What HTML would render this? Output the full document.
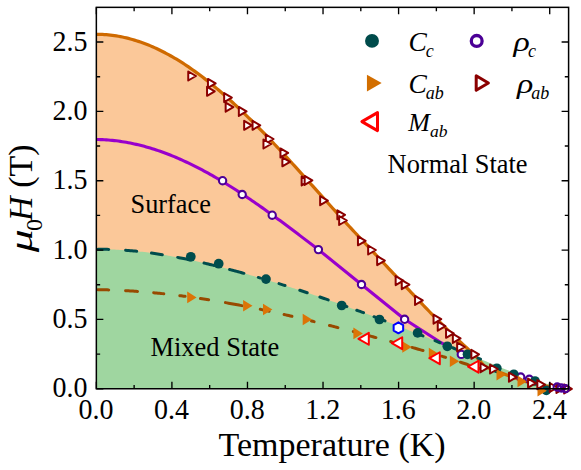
<!DOCTYPE html>
<html><head><meta charset="utf-8"><title>Phase diagram</title>
<style>html,body{margin:0;padding:0;background:#fff;}body{width:581px;height:470px;overflow:hidden;font-family:"Liberation Serif",serif;}svg{display:block;}</style></head>
<body>
<svg width="581" height="470" viewBox="0 0 581 470">
<rect width="581" height="470" fill="#ffffff"/>
<defs><clipPath id="cp"><rect x="96.35" y="7.35" width="472.25" height="381.40"/></clipPath></defs>
<g clip-path="url(#cp)">
<path d="M96.35,34.32 L98.35,34.33 L100.36,34.37 L102.36,34.45 L104.37,34.56 L106.37,34.70 L108.38,34.87 L110.38,35.08 L112.39,35.32 L114.39,35.60 L116.39,35.90 L118.40,36.24 L120.40,36.61 L122.41,37.02 L124.41,37.45 L126.42,37.92 L128.42,38.41 L130.43,38.94 L132.43,39.50 L134.44,40.09 L136.44,40.71 L138.44,41.36 L140.45,42.04 L142.45,42.75 L144.46,43.50 L146.46,44.27 L148.47,45.07 L150.47,45.89 L152.48,46.75 L154.48,47.64 L156.48,48.55 L158.49,49.50 L160.49,50.47 L162.50,51.47 L164.50,52.50 L166.51,53.55 L168.51,54.64 L170.52,55.75 L172.52,56.89 L174.53,58.05 L176.53,59.24 L178.53,60.46 L180.54,61.70 L182.54,62.97 L184.55,64.27 L186.55,65.59 L188.56,66.94 L190.56,68.31 L192.57,69.71 L194.57,71.13 L196.57,72.58 L198.58,74.06 L200.58,75.55 L202.59,77.07 L204.59,78.62 L206.60,80.19 L208.60,81.78 L210.61,83.39 L212.61,85.02 L214.62,86.68 L216.62,88.36 L218.62,90.06 L220.63,91.77 L222.63,93.51 L224.64,95.27 L226.64,97.05 L228.65,98.85 L230.65,100.66 L232.66,102.50 L234.66,104.35 L236.66,106.22 L238.67,108.10 L240.67,110.00 L242.68,111.92 L244.68,113.86 L246.69,115.80 L248.69,117.77 L250.70,119.75 L252.70,121.74 L254.71,123.75 L256.71,125.77 L258.71,127.80 L260.72,129.85 L262.72,131.91 L264.73,133.98 L266.73,136.06 L268.74,138.15 L270.74,140.26 L272.75,142.37 L274.75,144.50 L276.75,146.63 L278.76,148.77 L280.76,150.92 L282.77,153.08 L284.77,155.25 L286.78,157.43 L288.78,159.61 L290.79,161.80 L292.79,164.00 L294.80,166.20 L296.80,168.41 L298.80,170.62 L300.81,172.83 L302.81,175.05 L304.82,177.28 L306.82,179.50 L308.83,181.73 L310.83,183.96 L312.84,186.19 L314.84,188.43 L316.84,190.66 L318.85,192.89 L320.85,195.12 L322.86,197.35 L324.86,199.58 L326.87,201.80 L328.87,204.02 L330.88,206.24 L332.88,208.46 L334.89,210.67 L336.89,212.88 L338.89,215.08 L340.90,217.27 L342.90,219.46 L344.91,221.64 L346.91,223.82 L348.92,225.99 L350.92,228.15 L352.93,230.31 L354.93,232.47 L356.93,234.62 L358.94,236.77 L360.94,238.92 L362.95,241.06 L364.95,243.20 L366.96,245.34 L368.96,247.47 L370.97,249.60 L372.97,251.74 L374.98,253.87 L376.98,256.00 L378.98,258.13 L380.99,260.26 L382.99,262.39 L385.00,264.52 L387.00,266.65 L389.01,268.78 L391.01,270.91 L393.02,273.05 L395.02,275.19 L397.02,277.33 L399.03,279.47 L401.03,281.61 L403.04,283.75 L405.04,285.89 L407.05,288.03 L409.05,290.17 L411.06,292.30 L413.06,294.43 L415.07,296.55 L417.07,298.67 L419.07,300.79 L421.08,302.90 L423.08,305.00 L425.09,307.09 L427.09,309.17 L429.10,311.25 L431.10,313.31 L433.11,315.37 L435.11,317.41 L437.11,319.44 L439.12,321.46 L441.12,323.46 L443.13,325.45 L445.13,327.43 L447.14,329.39 L449.14,331.33 L451.15,333.26 L453.15,335.18 L455.16,337.08 L457.16,338.98 L459.16,340.86 L461.17,342.73 L463.17,344.59 L465.18,346.44 L467.18,348.28 L469.19,350.12 L471.19,351.94 L473.20,353.76 L475.20,355.58 L480.00,361.20 L484.40,366.00 L489.00,368.20 L494.00,369.80 L501.00,372.80 L513.00,377.30 L522.00,380.60 L532.00,383.10 L541.20,385.00 L553.60,387.50 L568.60,388.80 L568.60,388.75 L96.35,388.75 Z" fill="#fbc899"/>
<path d="M96.35,249.31 L98.35,249.29 L100.35,249.29 L102.35,249.30 L104.35,249.32 L106.36,249.35 L108.36,249.39 L110.36,249.45 L112.36,249.52 L114.36,249.60 L116.36,249.69 L118.36,249.79 L120.36,249.91 L122.36,250.03 L124.36,250.17 L126.37,250.31 L128.37,250.47 L130.37,250.64 L132.37,250.82 L134.37,251.01 L136.37,251.21 L138.37,251.42 L140.37,251.64 L142.37,251.87 L144.38,252.11 L146.38,252.36 L148.38,252.62 L150.38,252.88 L152.38,253.16 L154.38,253.45 L156.38,253.74 L158.38,254.05 L160.38,254.36 L162.38,254.68 L164.39,255.01 L166.39,255.34 L168.39,255.69 L170.39,256.04 L172.39,256.40 L174.39,256.77 L176.39,257.15 L178.39,257.53 L180.39,257.92 L182.40,258.32 L184.40,258.73 L186.40,259.14 L188.40,259.56 L190.40,259.98 L192.40,260.41 L194.40,260.85 L196.40,261.30 L198.40,261.75 L200.41,262.20 L202.41,262.66 L204.41,263.13 L206.41,263.61 L208.41,264.08 L210.41,264.57 L212.41,265.06 L214.41,265.55 L216.41,266.05 L218.41,266.55 L220.42,267.06 L222.42,267.57 L224.42,268.09 L226.42,268.61 L228.42,269.14 L230.42,269.66 L232.42,270.20 L234.42,270.73 L236.42,271.27 L238.43,271.82 L240.43,272.37 L242.43,272.92 L244.43,273.47 L246.43,274.03 L248.43,274.60 L250.43,275.16 L252.43,275.74 L254.43,276.31 L256.43,276.89 L258.44,277.47 L260.44,278.06 L262.44,278.64 L264.44,279.24 L266.44,279.83 L268.44,280.43 L270.44,281.04 L272.44,281.64 L274.44,282.26 L276.45,282.87 L278.45,283.49 L280.45,284.11 L282.45,284.73 L284.45,285.36 L286.45,285.99 L288.45,286.63 L290.45,287.26 L292.45,287.91 L294.45,288.55 L296.46,289.20 L298.46,289.85 L300.46,290.51 L302.46,291.16 L304.46,291.83 L306.46,292.49 L308.46,293.16 L310.46,293.83 L312.46,294.50 L314.47,295.18 L316.47,295.86 L318.47,296.54 L320.47,297.23 L322.47,297.92 L324.47,298.61 L326.47,299.31 L328.47,300.01 L330.47,300.71 L332.48,301.42 L334.48,302.12 L336.48,302.84 L338.48,303.55 L340.48,304.27 L342.48,304.99 L344.48,305.71 L346.48,306.43 L348.48,307.16 L350.48,307.89 L352.49,308.63 L354.49,309.37 L356.49,310.10 L358.49,310.85 L360.49,311.59 L362.49,312.34 L364.49,313.09 L366.49,313.84 L368.49,314.60 L370.50,315.36 L372.50,316.12 L374.50,316.88 L376.50,317.65 L378.50,318.41 L380.50,319.18 L382.50,319.96 L384.50,320.73 L386.50,321.50 L388.50,322.28 L390.51,323.06 L392.51,323.84 L394.51,324.62 L396.51,325.41 L398.51,326.19 L400.51,326.98 L402.51,327.77 L404.51,328.56 L406.51,329.35 L408.52,330.14 L410.52,330.93 L412.52,331.73 L414.52,332.52 L416.52,333.32 L418.52,334.12 L420.52,334.91 L422.52,335.71 L424.52,336.51 L426.52,337.31 L428.53,338.11 L430.53,338.91 L432.53,339.71 L434.53,340.51 L436.53,341.31 L438.53,342.11 L440.53,342.91 L442.53,343.72 L444.53,344.52 L446.54,345.32 L448.54,346.12 L450.54,346.93 L452.54,347.73 L454.54,348.53 L456.54,349.34 L458.54,350.15 L460.54,350.95 L462.54,351.76 L464.54,352.57 L466.55,353.38 L468.55,354.20 L470.55,355.01 L472.55,355.83 L474.55,356.64 L476.55,357.46 L478.55,358.28 L480.55,359.10 L482.55,359.93 L484.56,360.75 L486.56,361.58 L488.56,362.40 L490.56,363.23 L492.56,364.05 L494.56,364.87 L496.56,365.69 L498.56,366.51 L500.56,367.32 L502.57,368.13 L504.57,368.93 L506.57,369.73 L508.57,370.52 L510.57,371.31 L512.57,372.09 L514.57,372.86 L516.57,373.63 L518.57,374.38 L520.57,375.13 L522.58,375.87 L524.58,376.59 L526.58,377.31 L528.58,378.02 L530.58,378.71 L532.58,379.39 L534.58,380.06 L536.58,380.72 L538.58,381.36 L540.59,381.98 L542.59,382.60 L544.59,383.19 L546.59,383.77 L548.59,384.33 L550.59,384.88 L552.59,385.41 L554.59,385.92 L556.59,386.41 L558.59,386.88 L560.60,387.33 L562.60,387.76 L564.60,388.17 L566.60,388.56 L568.60,388.92 L568.60,388.75 L96.35,388.75 Z" fill="#9fd6a0"/>
</g>
<path d="M96.35,34.32 L98.35,34.33 L100.36,34.37 L102.36,34.45 L104.37,34.56 L106.37,34.70 L108.38,34.87 L110.38,35.08 L112.39,35.32 L114.39,35.60 L116.39,35.90 L118.40,36.24 L120.40,36.61 L122.41,37.02 L124.41,37.45 L126.42,37.92 L128.42,38.41 L130.43,38.94 L132.43,39.50 L134.44,40.09 L136.44,40.71 L138.44,41.36 L140.45,42.04 L142.45,42.75 L144.46,43.50 L146.46,44.27 L148.47,45.07 L150.47,45.89 L152.48,46.75 L154.48,47.64 L156.48,48.55 L158.49,49.50 L160.49,50.47 L162.50,51.47 L164.50,52.50 L166.51,53.55 L168.51,54.64 L170.52,55.75 L172.52,56.89 L174.53,58.05 L176.53,59.24 L178.53,60.46 L180.54,61.70 L182.54,62.97 L184.55,64.27 L186.55,65.59 L188.56,66.94 L190.56,68.31 L192.57,69.71 L194.57,71.13 L196.57,72.58 L198.58,74.06 L200.58,75.55 L202.59,77.07 L204.59,78.62 L206.60,80.19 L208.60,81.78 L210.61,83.39 L212.61,85.02 L214.62,86.68 L216.62,88.36 L218.62,90.06 L220.63,91.77 L222.63,93.51 L224.64,95.27 L226.64,97.05 L228.65,98.85 L230.65,100.66 L232.66,102.50 L234.66,104.35 L236.66,106.22 L238.67,108.10 L240.67,110.00 L242.68,111.92 L244.68,113.86 L246.69,115.80 L248.69,117.77 L250.70,119.75 L252.70,121.74 L254.71,123.75 L256.71,125.77 L258.71,127.80 L260.72,129.85 L262.72,131.91 L264.73,133.98 L266.73,136.06 L268.74,138.15 L270.74,140.26 L272.75,142.37 L274.75,144.50 L276.75,146.63 L278.76,148.77 L280.76,150.92 L282.77,153.08 L284.77,155.25 L286.78,157.43 L288.78,159.61 L290.79,161.80 L292.79,164.00 L294.80,166.20 L296.80,168.41 L298.80,170.62 L300.81,172.83 L302.81,175.05 L304.82,177.28 L306.82,179.50 L308.83,181.73 L310.83,183.96 L312.84,186.19 L314.84,188.43 L316.84,190.66 L318.85,192.89 L320.85,195.12 L322.86,197.35 L324.86,199.58 L326.87,201.80 L328.87,204.02 L330.88,206.24 L332.88,208.46 L334.89,210.67 L336.89,212.88 L338.89,215.08 L340.90,217.27 L342.90,219.46 L344.91,221.64 L346.91,223.82 L348.92,225.99 L350.92,228.15 L352.93,230.31 L354.93,232.47 L356.93,234.62 L358.94,236.77 L360.94,238.92 L362.95,241.06 L364.95,243.20 L366.96,245.34 L368.96,247.47 L370.97,249.60 L372.97,251.74 L374.98,253.87 L376.98,256.00 L378.98,258.13 L380.99,260.26 L382.99,262.39 L385.00,264.52 L387.00,266.65 L389.01,268.78 L391.01,270.91 L393.02,273.05 L395.02,275.19 L397.02,277.33 L399.03,279.47 L401.03,281.61 L403.04,283.75 L405.04,285.89 L407.05,288.03 L409.05,290.17 L411.06,292.30 L413.06,294.43 L415.07,296.55 L417.07,298.67 L419.07,300.79 L421.08,302.90 L423.08,305.00 L425.09,307.09 L427.09,309.17 L429.10,311.25 L431.10,313.31 L433.11,315.37 L435.11,317.41 L437.11,319.44 L439.12,321.46 L441.12,323.46 L443.13,325.45 L445.13,327.43 L447.14,329.39 L449.14,331.33 L451.15,333.26 L453.15,335.18 L455.16,337.08 L457.16,338.98 L459.16,340.86 L461.17,342.73 L463.17,344.59 L465.18,346.44 L467.18,348.28 L469.19,350.12 L471.19,351.94 L473.20,353.76 L475.20,355.58 L480.00,361.20 L484.40,366.00 L489.00,368.20 L494.00,369.80 L501.00,372.80 L513.00,377.30 L522.00,380.60 L532.00,383.10 L541.20,385.00 L553.60,387.50 L568.60,388.80" fill="none" stroke="#cf6a00" stroke-width="3.2" stroke-linejoin="round"/>
<path d="M96.35,139.50 L98.35,139.53 L100.34,139.58 L102.34,139.66 L104.34,139.76 L106.33,139.88 L108.33,140.02 L110.33,140.19 L112.32,140.38 L114.32,140.59 L116.32,140.83 L118.31,141.08 L120.31,141.36 L122.31,141.66 L124.30,141.98 L126.30,142.33 L128.30,142.69 L130.29,143.08 L132.29,143.49 L134.28,143.92 L136.28,144.37 L138.28,144.84 L140.27,145.33 L142.27,145.84 L144.27,146.37 L146.26,146.92 L148.26,147.49 L150.26,148.08 L152.25,148.70 L154.25,149.33 L156.25,149.98 L158.24,150.65 L160.24,151.34 L162.24,152.04 L164.23,152.77 L166.23,153.52 L168.23,154.28 L170.22,155.06 L172.22,155.86 L174.22,156.68 L176.21,157.52 L178.21,158.38 L180.21,159.25 L182.20,160.14 L184.20,161.05 L186.20,161.97 L188.19,162.92 L190.19,163.88 L192.19,164.85 L194.18,165.84 L196.18,166.85 L198.18,167.88 L200.17,168.92 L202.17,169.97 L204.16,171.04 L206.16,172.13 L208.16,173.23 L210.15,174.34 L212.15,175.47 L214.15,176.62 L216.14,177.77 L218.14,178.94 L220.14,180.13 L222.13,181.32 L224.13,182.53 L226.13,183.76 L228.12,184.99 L230.12,186.24 L232.12,187.49 L234.11,188.76 L236.11,190.05 L238.11,191.34 L240.10,192.64 L242.10,193.95 L244.10,195.28 L246.09,196.61 L248.09,197.96 L250.09,199.31 L252.08,200.67 L254.08,202.05 L256.08,203.43 L258.07,204.82 L260.07,206.22 L262.07,207.62 L264.06,209.04 L266.06,210.46 L268.05,211.89 L270.05,213.33 L272.05,214.77 L274.04,216.23 L276.04,217.68 L278.04,219.15 L280.03,220.62 L282.03,222.10 L284.03,223.58 L286.02,225.06 L288.02,226.56 L290.02,228.05 L292.01,229.56 L294.01,231.06 L296.01,232.57 L298.00,234.09 L300.00,235.61 L318.40,249.60 L361.50,284.50 L404.60,319.30 L439.60,341.80 L446.00,345.40" fill="none" stroke="#9900cc" stroke-width="3.1" stroke-linejoin="round"/>
<path d="M97.90,249.30 L99.44,249.29 L100.99,249.29 L102.53,249.30 L104.07,249.31 L105.61,249.33 L107.16,249.36 L108.70,249.40 M125.60,250.26 L127.19,250.38 L128.77,250.51 L130.36,250.64 L131.94,250.78 L133.53,250.93 L135.11,251.08 L136.70,251.24 M151.50,253.04 L153.04,253.26 L154.59,253.48 L156.13,253.70 L157.67,253.94 L159.21,254.17 L160.76,254.42 L162.30,254.66 M177.70,257.40 L179.15,257.68 L180.60,257.96 L182.05,258.25 L183.50,258.54 L184.95,258.84 L186.40,259.14 L187.85,259.44 L189.30,259.75 M204.00,263.04 L205.46,263.38 L206.91,263.73 L208.37,264.07 L209.83,264.43 L211.29,264.78 L212.74,265.14 L214.20,265.50 M229.60,269.45 L231.03,269.83 L232.46,270.21 L233.89,270.59 L235.32,270.98 L236.75,271.36 L238.18,271.75 L239.61,272.14 L241.04,272.54 L242.47,272.93 L243.90,273.33 M258.30,277.43 L260.50,278.07 M279.00,283.66 L280.50,284.12 L282.00,284.59 L283.50,285.06 L285.00,285.53 M299.80,290.29 L301.28,290.78 L302.76,291.26 L304.24,291.75 L305.72,292.24 L307.20,292.74 M319.90,297.04 L321.28,297.51 L322.67,297.99 L324.05,298.47 L325.43,298.95 L326.82,299.43 L328.20,299.91 M346.40,306.40 L346.90,306.59 M356.80,310.22 L358.48,310.84 L360.15,311.47 L361.82,312.09 L363.50,312.72 M374.00,316.69 L375.57,317.29 L377.14,317.89 L378.71,318.50 L380.29,319.10 L381.86,319.71 L383.43,320.31 L385.00,320.92 M421.60,335.34 L423.00,335.90 M435.00,340.70 L436.70,341.38 L438.40,342.06 L440.10,342.74 M452.50,347.71 L453.83,348.25 L455.17,348.79 L456.50,349.32 M478.00,358.05 L479.25,358.57 L480.50,359.08" fill="none" stroke="#004d4d" stroke-width="3" stroke-linecap="round"/>
<path d="M97.90,289.67 L99.44,289.70 L100.99,289.73 L102.53,289.76 L104.07,289.79 L105.61,289.83 L107.16,289.87 L108.70,289.92 M125.60,290.65 L127.09,290.73 L128.57,290.82 L130.06,290.91 L131.55,291.00 L133.04,291.10 L134.53,291.20 L136.01,291.30 L137.50,291.41 M153.70,292.76 L155.14,292.90 L156.59,293.04 L158.03,293.18 L159.47,293.32 L160.91,293.47 L162.36,293.62 L163.80,293.78 M179.80,295.65 L181.12,295.82 L182.45,295.99 L183.78,296.16 L185.10,296.34 M200.50,298.53 L202.12,298.77 L203.74,299.02 L205.36,299.27 L206.98,299.52 L208.60,299.78 M225.50,302.62 L226.99,302.89 L228.48,303.15 L229.97,303.42 L231.46,303.69 L232.95,303.97 L234.45,304.24 L235.94,304.52 L237.43,304.80 L238.92,305.08 L240.41,305.36 L241.90,305.65 M260.30,309.33 L261.77,309.64 L263.23,309.94 L264.70,310.25 L266.17,310.57 L267.63,310.88 L269.10,311.19 M284.10,314.51 L285.66,314.86 L287.22,315.22 L288.78,315.57 L290.34,315.93 L291.90,316.29 M311.50,320.96 L312.80,321.28 L314.10,321.60 M329.50,325.45 L330.90,325.81 L332.30,326.16 L333.70,326.52 L335.10,326.88 L336.50,327.24 L337.90,327.60 M353.30,331.60 L354.50,331.92 M369.90,335.99 L371.40,336.38 L372.90,336.78 L374.40,337.18 L375.90,337.58 M390.70,341.55 L391.90,341.87 M412.00,347.41 L413.57,347.86 L415.14,348.30 L416.71,348.75 L418.29,349.20 L419.86,349.65 L421.43,350.11 L423.00,350.56 M441.70,356.18 L443.00,356.58 L444.30,356.99 L445.60,357.40 M460.40,362.17 L462.02,362.70 L463.64,363.23 L465.26,363.76 L466.88,364.29 L468.50,364.82 M479.50,368.43 L481.00,368.92 L482.50,369.40" fill="none" stroke="#984a00" stroke-width="3" stroke-linecap="round"/>
<circle cx="222.60" cy="180.70" r="3.65" fill="#fff" stroke="#4b0096" stroke-width="2.1"/>
<circle cx="242.20" cy="194.50" r="3.65" fill="#fff" stroke="#4b0096" stroke-width="2.1"/>
<circle cx="272.20" cy="215.20" r="3.65" fill="#fff" stroke="#4b0096" stroke-width="2.1"/>
<circle cx="318.40" cy="249.60" r="3.65" fill="#fff" stroke="#4b0096" stroke-width="2.1"/>
<circle cx="361.50" cy="284.50" r="3.65" fill="#fff" stroke="#4b0096" stroke-width="2.1"/>
<circle cx="404.60" cy="319.30" r="3.65" fill="#fff" stroke="#4b0096" stroke-width="2.1"/>
<circle cx="461.30" cy="354.40" r="3.65" fill="#fff" stroke="#4b0096" stroke-width="2.1"/>
<circle cx="520.70" cy="377.00" r="3.65" fill="#fff" stroke="#4b0096" stroke-width="2.1"/>
<circle cx="529.30" cy="379.30" r="3.65" fill="#fff" stroke="#4b0096" stroke-width="2.1"/>
<circle cx="190.80" cy="256.80" r="4.85" fill="#004d4d"/>
<circle cx="218.70" cy="263.70" r="4.85" fill="#004d4d"/>
<circle cx="266.00" cy="279.10" r="4.85" fill="#004d4d"/>
<circle cx="341.70" cy="305.50" r="4.85" fill="#004d4d"/>
<circle cx="379.50" cy="319.50" r="4.85" fill="#004d4d"/>
<circle cx="417.60" cy="332.90" r="4.85" fill="#004d4d"/>
<circle cx="447.30" cy="346.30" r="4.85" fill="#004d4d"/>
<circle cx="467.50" cy="354.30" r="4.85" fill="#004d4d"/>
<circle cx="496.80" cy="368.30" r="4.85" fill="#004d4d"/>
<circle cx="513.80" cy="374.30" r="4.85" fill="#004d4d"/>
<circle cx="535.00" cy="381.00" r="4.85" fill="#004d4d"/>
<circle cx="546.30" cy="390.30" r="4.85" fill="#004d4d"/>
<polygon points="187.20,291.60 196.60,297.40 187.20,303.20" fill="#dc7406"/>
<polygon points="243.10,299.90 252.50,305.70 243.10,311.50" fill="#dc7406"/>
<polygon points="263.00,303.70 272.40,309.50 263.00,315.30" fill="#dc7406"/>
<polygon points="302.70,313.70 312.10,319.50 302.70,325.30" fill="#dc7406"/>
<polygon points="353.40,327.60 362.80,333.40 353.40,339.20" fill="#dc7406"/>
<polygon points="402.30,341.20 411.70,347.00 402.30,352.80" fill="#dc7406"/>
<polygon points="428.80,347.70 438.20,353.50 428.80,359.30" fill="#dc7406"/>
<polygon points="449.80,355.50 459.20,361.30 449.80,367.10" fill="#dc7406"/>
<polygon points="496.50,368.90 505.90,374.70 496.50,380.50" fill="#dc7406"/>
<polygon points="517.50,375.60 526.90,381.40 517.50,387.20" fill="#dc7406"/>
<polygon points="537.50,385.00 546.90,390.80 537.50,396.60" fill="#dc7406"/>
<polygon points="188.25,71.50 195.95,76.00 188.25,80.50" fill="#fff" stroke="#8b0000" stroke-width="2" stroke-linejoin="round"/>
<polygon points="207.95,78.90 215.65,83.40 207.95,87.90" fill="#fff" stroke="#8b0000" stroke-width="2" stroke-linejoin="round"/>
<polygon points="207.05,86.80 214.75,91.30 207.05,95.80" fill="#fff" stroke="#8b0000" stroke-width="2" stroke-linejoin="round"/>
<polygon points="224.15,93.10 231.85,97.60 224.15,102.10" fill="#fff" stroke="#8b0000" stroke-width="2" stroke-linejoin="round"/>
<polygon points="225.65,102.70 233.35,107.20 225.65,111.70" fill="#fff" stroke="#8b0000" stroke-width="2" stroke-linejoin="round"/>
<polygon points="238.85,106.90 246.55,111.40 238.85,115.90" fill="#fff" stroke="#8b0000" stroke-width="2" stroke-linejoin="round"/>
<polygon points="244.15,120.80 251.85,125.30 244.15,129.80" fill="#fff" stroke="#8b0000" stroke-width="2" stroke-linejoin="round"/>
<polygon points="252.55,120.80 260.25,125.30 252.55,129.80" fill="#fff" stroke="#8b0000" stroke-width="2" stroke-linejoin="round"/>
<polygon points="265.85,134.50 273.55,139.00 265.85,143.50" fill="#fff" stroke="#8b0000" stroke-width="2" stroke-linejoin="round"/>
<polygon points="263.45,139.50 271.15,144.00 263.45,148.50" fill="#fff" stroke="#8b0000" stroke-width="2" stroke-linejoin="round"/>
<polygon points="280.45,148.40 288.15,152.90 280.45,157.40" fill="#fff" stroke="#8b0000" stroke-width="2" stroke-linejoin="round"/>
<polygon points="282.35,157.30 290.05,161.80 282.35,166.30" fill="#fff" stroke="#8b0000" stroke-width="2" stroke-linejoin="round"/>
<polygon points="301.65,176.40 309.35,180.90 301.65,185.40" fill="#fff" stroke="#8b0000" stroke-width="2" stroke-linejoin="round"/>
<polygon points="304.65,175.90 312.35,180.40 304.65,184.90" fill="#fff" stroke="#8b0000" stroke-width="2" stroke-linejoin="round"/>
<polygon points="320.15,196.20 327.85,200.70 320.15,205.20" fill="#fff" stroke="#8b0000" stroke-width="2" stroke-linejoin="round"/>
<polygon points="337.35,210.30 345.05,214.80 337.35,219.30" fill="#fff" stroke="#8b0000" stroke-width="2" stroke-linejoin="round"/>
<polygon points="339.15,216.00 346.85,220.50 339.15,225.00" fill="#fff" stroke="#8b0000" stroke-width="2" stroke-linejoin="round"/>
<polygon points="357.95,236.30 365.65,240.80 357.95,245.30" fill="#fff" stroke="#8b0000" stroke-width="2" stroke-linejoin="round"/>
<polygon points="368.15,245.50 375.85,250.00 368.15,254.50" fill="#fff" stroke="#8b0000" stroke-width="2" stroke-linejoin="round"/>
<polygon points="377.15,256.10 384.85,260.60 377.15,265.10" fill="#fff" stroke="#8b0000" stroke-width="2" stroke-linejoin="round"/>
<polygon points="395.65,276.10 403.35,280.60 395.65,285.10" fill="#fff" stroke="#8b0000" stroke-width="2" stroke-linejoin="round"/>
<polygon points="401.75,280.10 409.45,284.60 401.75,289.10" fill="#fff" stroke="#8b0000" stroke-width="2" stroke-linejoin="round"/>
<polygon points="415.05,295.90 422.75,300.40 415.05,304.90" fill="#fff" stroke="#8b0000" stroke-width="2" stroke-linejoin="round"/>
<polygon points="433.55,314.70 441.25,319.20 433.55,323.70" fill="#fff" stroke="#8b0000" stroke-width="2" stroke-linejoin="round"/>
<polygon points="437.75,321.70 445.45,326.20 437.75,330.70" fill="#fff" stroke="#8b0000" stroke-width="2" stroke-linejoin="round"/>
<polygon points="446.05,328.80 453.75,333.30 446.05,337.80" fill="#fff" stroke="#8b0000" stroke-width="2" stroke-linejoin="round"/>
<polygon points="452.85,333.90 460.55,338.40 452.85,342.90" fill="#fff" stroke="#8b0000" stroke-width="2" stroke-linejoin="round"/>
<polygon points="457.15,342.50 464.85,347.00 457.15,351.50" fill="#fff" stroke="#8b0000" stroke-width="2" stroke-linejoin="round"/>
<polygon points="471.35,349.80 479.05,354.30 471.35,358.80" fill="#fff" stroke="#8b0000" stroke-width="2" stroke-linejoin="round"/>
<polygon points="480.55,363.20 488.25,367.70 480.55,372.20" fill="#fff" stroke="#8b0000" stroke-width="2" stroke-linejoin="round"/>
<polygon points="490.05,364.50 497.75,369.00 490.05,373.50" fill="#fff" stroke="#8b0000" stroke-width="2" stroke-linejoin="round"/>
<polygon points="508.95,372.70 516.65,377.20 508.95,381.70" fill="#fff" stroke="#8b0000" stroke-width="2" stroke-linejoin="round"/>
<polygon points="528.05,378.60 535.75,383.10 528.05,387.60" fill="#fff" stroke="#8b0000" stroke-width="2" stroke-linejoin="round"/>
<polygon points="537.35,380.20 545.05,384.70 537.35,389.20" fill="#fff" stroke="#8b0000" stroke-width="2" stroke-linejoin="round"/>
<polygon points="549.75,383.00 557.45,387.50 549.75,392.00" fill="#fff" stroke="#8b0000" stroke-width="2" stroke-linejoin="round"/>
<polygon points="556.45,384.00 564.15,388.50 556.45,393.00" fill="#fff" stroke="#8b0000" stroke-width="2" stroke-linejoin="round"/>
<polygon points="564.15,384.40 571.85,388.90 564.15,393.40" fill="#fff" stroke="#8b0000" stroke-width="2" stroke-linejoin="round"/>
<circle cx="557.20" cy="387.00" r="3.65" fill="none" stroke="#4b0096" stroke-width="2.1"/>
<circle cx="561.30" cy="388.00" r="3.65" fill="none" stroke="#4b0096" stroke-width="2.1"/>
<circle cx="565.40" cy="388.60" r="3.65" fill="none" stroke="#4b0096" stroke-width="2.1"/>
<polygon points="368.80,332.85 358.40,338.80 368.80,344.75" fill="#fff" stroke="#ff0000" stroke-width="2" stroke-linejoin="round"/>
<polygon points="402.20,337.25 391.80,343.20 402.20,349.15" fill="#fff" stroke="#ff0000" stroke-width="2" stroke-linejoin="round"/>
<polygon points="439.80,352.25 429.40,358.20 439.80,364.15" fill="#fff" stroke="#ff0000" stroke-width="2" stroke-linejoin="round"/>
<polygon points="478.50,360.75 468.10,366.70 478.50,372.65" fill="#fff" stroke="#ff0000" stroke-width="2" stroke-linejoin="round"/>
<polygon points="398.40,322.30 403.16,325.05 403.16,330.55 398.40,333.30 393.64,330.55 393.64,325.05" fill="#fff" stroke="#0000ff" stroke-width="2" stroke-linejoin="round"/>
<path d="M96.35,388.75 v-7.00 M96.35,7.35 v7.00 M134.13,388.75 v-3.80 M134.13,7.35 v3.80 M171.91,388.75 v-7.00 M171.91,7.35 v7.00 M209.69,388.75 v-3.80 M209.69,7.35 v3.80 M247.47,388.75 v-7.00 M247.47,7.35 v7.00 M285.25,388.75 v-3.80 M285.25,7.35 v3.80 M323.03,388.75 v-7.00 M323.03,7.35 v7.00 M360.81,388.75 v-3.80 M360.81,7.35 v3.80 M398.59,388.75 v-7.00 M398.59,7.35 v7.00 M436.37,388.75 v-3.80 M436.37,7.35 v3.80 M474.15,388.75 v-7.00 M474.15,7.35 v7.00 M511.93,388.75 v-3.80 M511.93,7.35 v3.80 M549.71,388.75 v-7.00 M549.71,7.35 v7.00 M96.35,388.75 h7.00 M568.60,388.75 h-7.00 M96.35,354.08 h3.80 M568.60,354.08 h-3.80 M96.35,319.40 h7.00 M568.60,319.40 h-7.00 M96.35,284.73 h3.80 M568.60,284.73 h-3.80 M96.35,250.06 h7.00 M568.60,250.06 h-7.00 M96.35,215.39 h3.80 M568.60,215.39 h-3.80 M96.35,180.71 h7.00 M568.60,180.71 h-7.00 M96.35,146.04 h3.80 M568.60,146.04 h-3.80 M96.35,111.37 h7.00 M568.60,111.37 h-7.00 M96.35,76.70 h3.80 M568.60,76.70 h-3.80 M96.35,42.02 h7.00 M568.60,42.02 h-7.00" stroke="#000" stroke-width="1.35" fill="none"/>
<rect x="96.35" y="7.35" width="472.25" height="381.40" fill="none" stroke="#000" stroke-width="1.5"/>
<g font-family="'Liberation Serif', serif" fill="#000">
<text transform="translate(96.05,418.9) scale(1,1.065)" font-size="28" text-anchor="middle">0.0</text>
<text transform="translate(171.61,418.9) scale(1,1.065)" font-size="28" text-anchor="middle">0.4</text>
<text transform="translate(247.17,418.9) scale(1,1.065)" font-size="28" text-anchor="middle">0.8</text>
<text transform="translate(322.73,418.9) scale(1,1.065)" font-size="28" text-anchor="middle">1.2</text>
<text transform="translate(398.29,418.9) scale(1,1.065)" font-size="28" text-anchor="middle">1.6</text>
<text transform="translate(473.85,418.9) scale(1,1.065)" font-size="28" text-anchor="middle">2.0</text>
<text transform="translate(549.41,418.9) scale(1,1.065)" font-size="28" text-anchor="middle">2.4</text>
<text transform="translate(87.4,397.45) scale(1,1.065)" font-size="28" text-anchor="end">0.0</text>
<text transform="translate(87.4,328.10) scale(1,1.065)" font-size="28" text-anchor="end">0.5</text>
<text transform="translate(87.4,258.76) scale(1,1.065)" font-size="28" text-anchor="end">1.0</text>
<text transform="translate(87.4,189.41) scale(1,1.065)" font-size="28" text-anchor="end">1.5</text>
<text transform="translate(87.4,120.07) scale(1,1.065)" font-size="28" text-anchor="end">2.0</text>
<text transform="translate(87.4,50.72) scale(1,1.065)" font-size="28" text-anchor="end">2.5</text>
<text x="218.6" y="455.6" font-size="34">Temperature (K)</text>
<g transform="translate(31.6,252.3) rotate(-90)" font-size="34"><text transform="scale(1.35,0.92)" x="0" y="0" font-style="italic">μ</text><text x="21.3" y="9.9" font-size="24">0</text><text x="31.2" y="0" font-style="italic">H</text><text x="64.5" y="0">(T)</text></g>
<text transform="translate(130.5,213.3) scale(1.012,1.02)" font-size="26">Surface</text>
<text transform="translate(150.4,356.0) scale(1,1.025)" font-size="26.5">Mixed State</text>
<text x="387.6" y="173" font-size="26.4">Normal State</text>
<text x="408.60" y="51.00" font-size="27.5" font-style="italic">C<tspan font-size="18" dy="6.2" dx="-1.3">c</tspan></text>
<text x="408.60" y="92.90" font-size="27.5" font-style="italic">C<tspan font-size="18" dy="6.2" dx="-1.3">ab</tspan></text>
<text x="408.30" y="130.90" font-size="26" font-style="italic">M<tspan font-size="17.5" dy="6.2" dx="0">ab</tspan></text>
<text transform="translate(513.40,51.00) scale(1.28,1.06)" font-size="26.5" font-style="italic">ρ</text><text x="527.90" y="57.20" font-size="18" font-style="italic">c</text>
<text transform="translate(517.10,92.90) scale(1.28,1.06)" font-size="26.5" font-style="italic">ρ</text><text x="531.20" y="99.10" font-size="18" font-style="italic">ab</text>
</g>
<circle cx="372.0" cy="40.9" r="6.95" fill="#004b4b"/>
<polygon points="366.95,74.70 381.65,83.05 366.95,91.40" fill="#d26e00"/>
<polygon points="377.50,112.60 361.90,121.60 377.50,130.60" fill="#fff" stroke="#ff0000" stroke-width="3" stroke-linejoin="round"/>
<circle cx="476.7" cy="40.9" r="5.4" fill="#fff" stroke="#4b0096" stroke-width="3.3"/>
<polygon points="476.20,75.80 488.40,83.05 476.20,90.30" fill="#fff" stroke="#8b0000" stroke-width="3" stroke-linejoin="round"/>
</svg>
</body></html>
